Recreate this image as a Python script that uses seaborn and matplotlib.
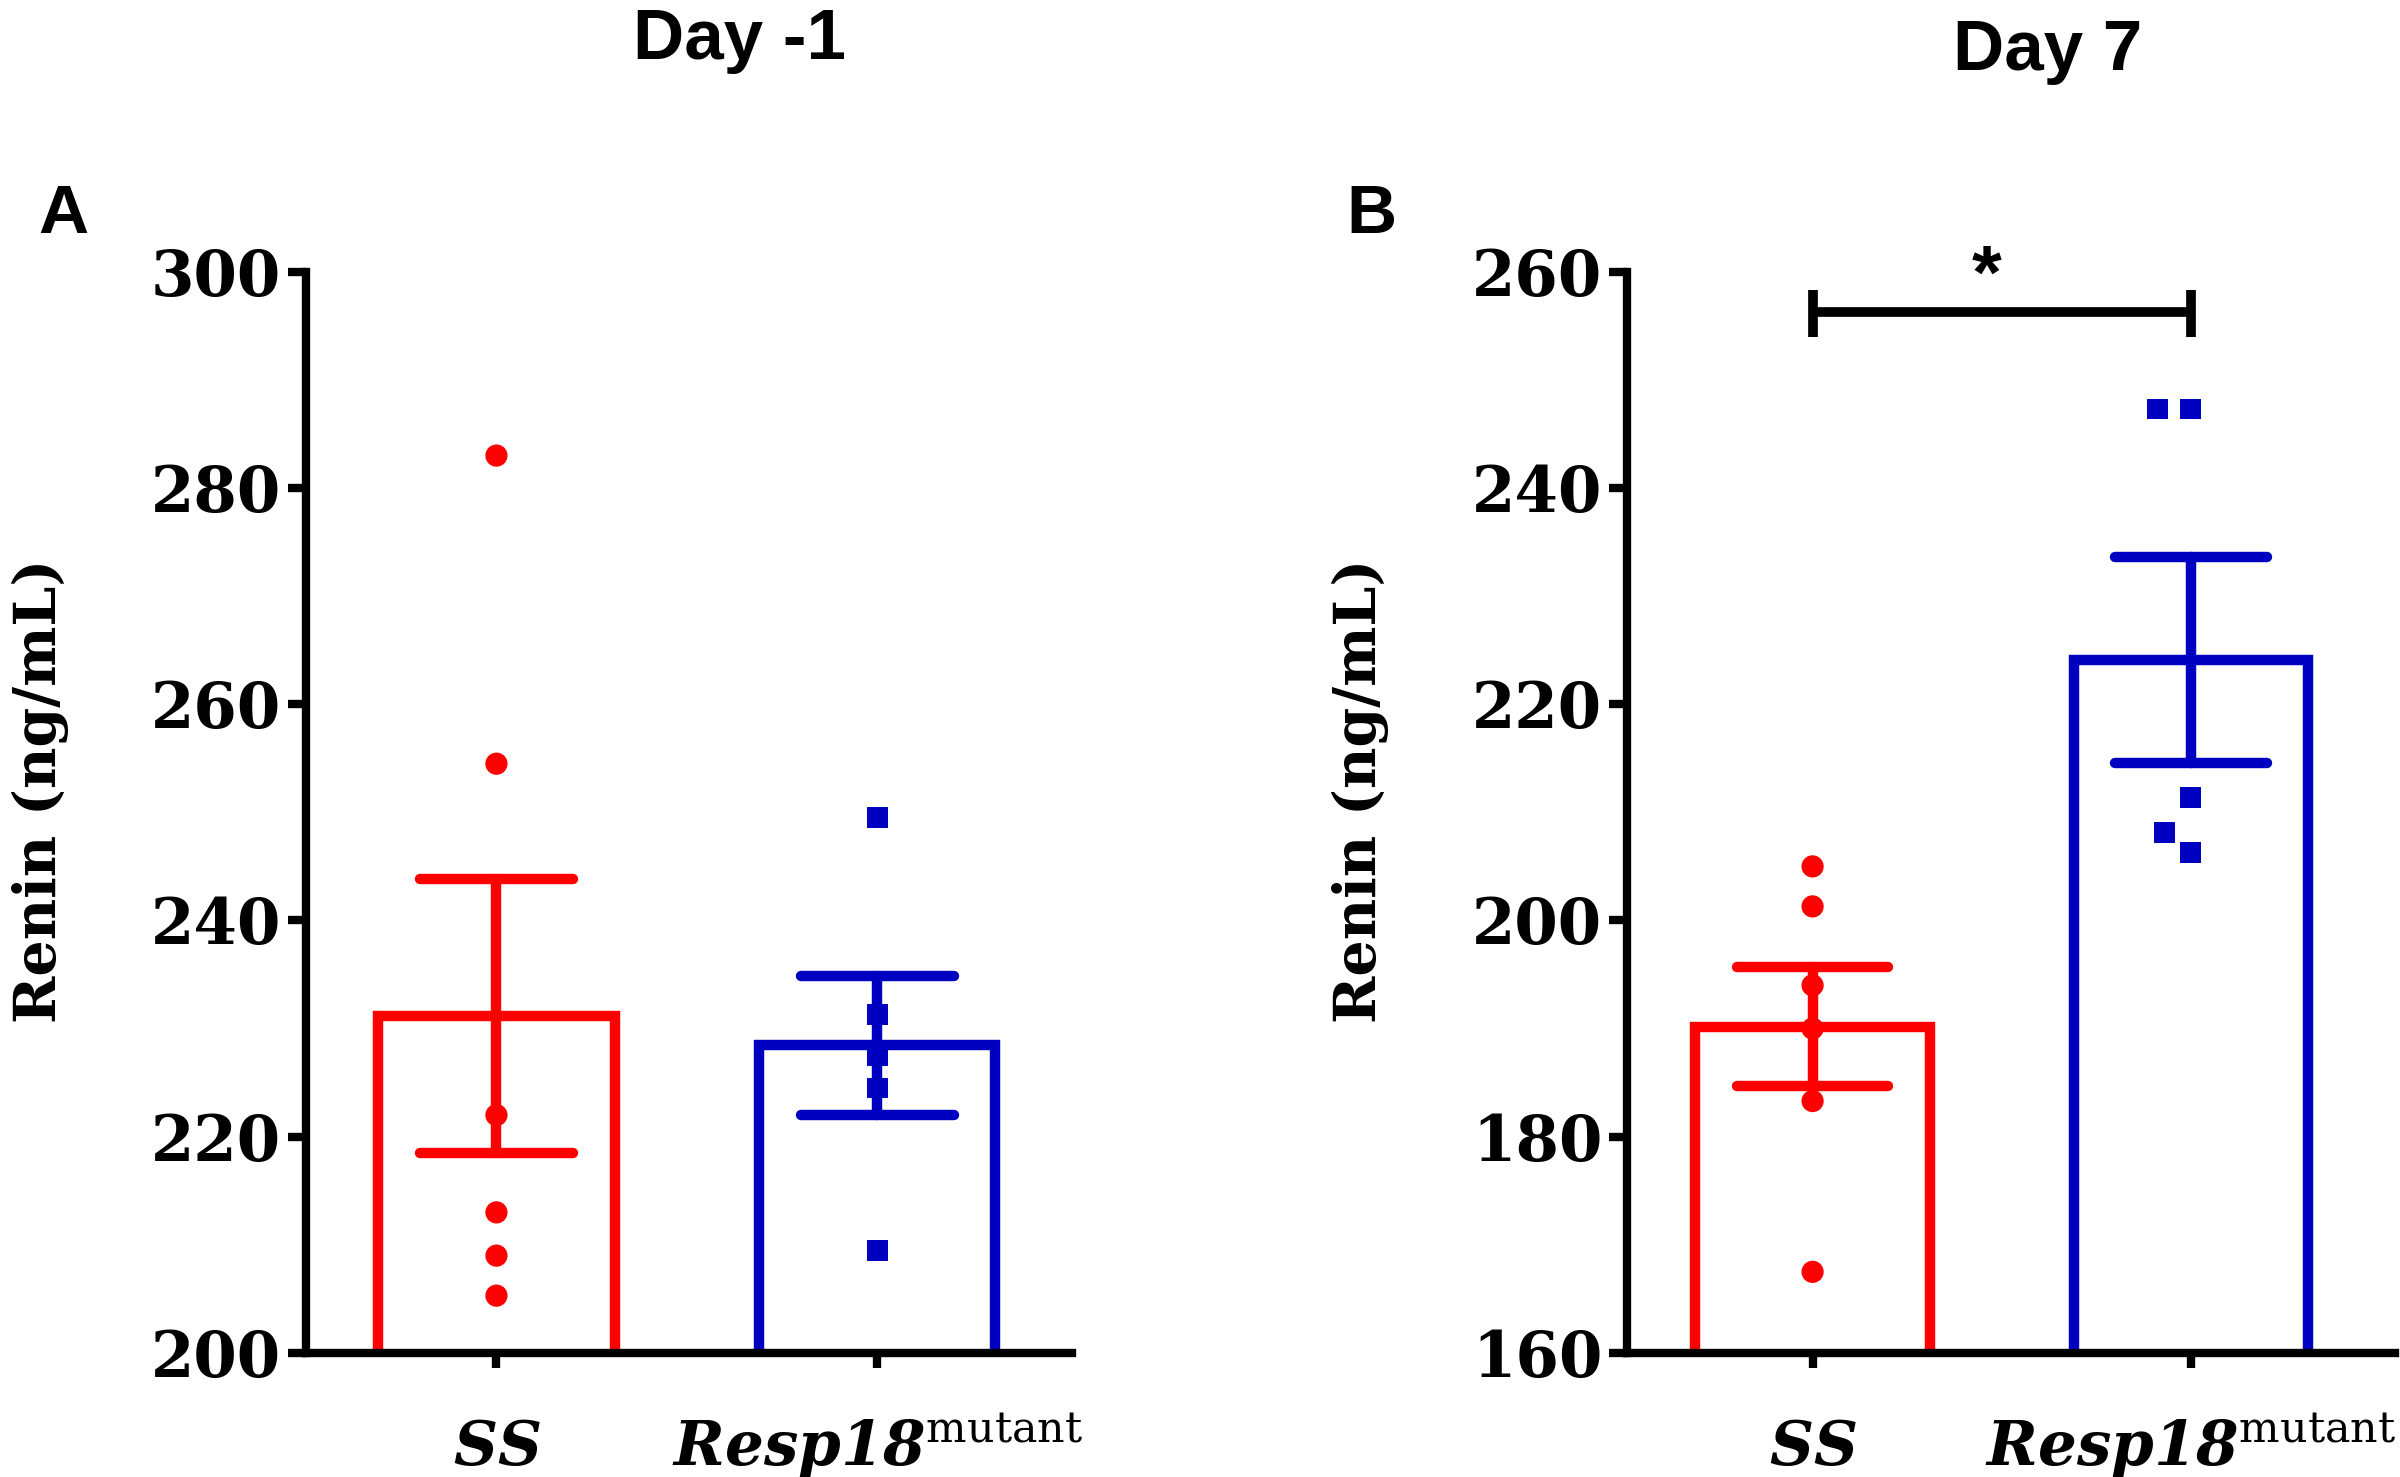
import numpy as np
import pandas as pd
import seaborn as sns
import matplotlib.pyplot as plt

# valeurs (renine, ng/mL)
groupes = ['SS', 'Resp18']
etiquettes = [r'$\mathbf{SS}$', r'$\mathbf{Resp18}^{\mathrm{mutant}}$']
couleurs = ['#FF0000', '#0000C0']
marqueurs = ['o', 's']

ss_jour_m1 = [283.0, 254.5, 222.0, 213.0, 209.0, 205.3]
resp_jour_m1 = [249.5, 231.3, 227.5, 224.5, 209.5]
ss_jour7 = [205.0, 201.3, 194.0, 190.0, 183.3, 167.5]
resp_jour7 = [247.3, 247.3, 211.4, 208.1, 206.3]

titres = ['Day -1', 'Day 7']
lettres = ['A', 'B']
yticks_a = [200, 220, 240, 260, 280, 300]
yticks_b = [160, 180, 200, 220, 240, 260]

sns.set_style('ticks')
plt.rcParams['font.family'] = ['DejaVu Serif']
plt.rcParams['text.color'] = 'black'
plt.rcParams['axes.labelcolor'] = 'black'
plt.rcParams['xtick.color'] = 'black'
plt.rcParams['ytick.color'] = 'black'
plt.rcParams['mathtext.fontset'] = 'custom'
plt.rcParams['mathtext.bf'] = 'DejaVu Serif:italic:bold'
plt.rcParams['mathtext.rm'] = 'DejaVu Serif'


def tableau(ss, resp):
    return pd.DataFrame({'groupe': ['SS'] * len(ss) + ['Resp18'] * len(resp),
                         'renin': ss + resp})


def panneau(ax, df, yticks, xlim, ecart):
    for g, c, m in zip(groupes, couleurs, marqueurs):
        sous = df[df['groupe'] == g]
        sns.barplot(data=sous, x='groupe', y='renin', order=groupes, ax=ax,
                    errorbar='se', capsize=0.4, width=0.62, fill=False,
                    color=c, linewidth=7.5,
                    err_kws={'color': c, 'linewidth': 7.5})
    # bord invisible : ecarte un peu les points du swarm
    for g, c, m in zip(groupes, couleurs, marqueurs):
        sous = df[df['groupe'] == g]
        sns.swarmplot(data=sous, x='groupe', y='renin', order=groupes, ax=ax,
                      color=c, marker=m, size=16 if m == 'o' else 15,
                      linewidth=ecart, edgecolor='none', zorder=5)
    ax.set_ylim(yticks[0], yticks[-1])
    ax.set_xlim(*xlim)
    ax.set_yticks(yticks, [str(v) for v in yticks], fontsize=45, fontweight='bold')
    ax.set_xticks([0, 1], etiquettes, fontsize=44, va='baseline')
    ax.tick_params(axis='y', length=13, width=6, pad=5, color='black')
    ax.tick_params(axis='x', length=11, width=6, pad=70, color='black')
    ax.set_xlabel('')
    ax.set_ylabel('Renin (ng/mL)', fontsize=41, fontweight='bold')
    ax.yaxis.set_label_coords(-0.31, 0.52)
    ax.spines[['top', 'right']].set_visible(False)
    for s in ['left', 'bottom']:
        ax.spines[s].set_linewidth(6)
        ax.spines[s].set_color('black')


fig = plt.figure(figsize=(24, 14.77), dpi=100)
ax_a = fig.add_axes([0.1275, 0.084, 0.319, 0.732])
ax_b = fig.add_axes([0.678, 0.084, 0.32, 0.732])

panneau(ax_a, tableau(ss_jour_m1, resp_jour_m1), yticks_a, (-0.5, 1.51), 5)
panneau(ax_b, tableau(ss_jour7, resp_jour7), yticks_b, (-0.49, 1.54), 8)

# barre de significativite (jour 7)
ax_b.plot([0, 1], [256.3, 256.3], color='black', lw=7, clip_on=False, solid_capstyle='butt')
ax_b.plot([0, 0], [254.0, 258.3], color='black', lw=7, clip_on=False, solid_capstyle='butt')
ax_b.plot([1, 1], [254.0, 258.3], color='black', lw=7, clip_on=False, solid_capstyle='butt')
ax_b.text(0.46, 257.6, '*', ha='center', va='baseline', fontsize=55,
          fontweight='bold', family='Liberation Sans')

# titres et lettres des panneaux
fig.text(0.308, 0.960, titres[0], ha='center', va='baseline', fontsize=51,
         fontweight='bold', family='Liberation Sans')
fig.text(0.853, 0.9526, titres[1], ha='center', va='baseline', fontsize=51,
         fontweight='bold', family='Liberation Sans')
fig.text(0.016, 0.842, lettres[0], ha='left', va='baseline', fontsize=50,
         fontweight='bold', family='Liberation Sans')
fig.text(0.561, 0.842, lettres[1], ha='left', va='baseline', fontsize=50,
         fontweight='bold', family='Liberation Sans')

fig.savefig('out.png', dpi=100)
